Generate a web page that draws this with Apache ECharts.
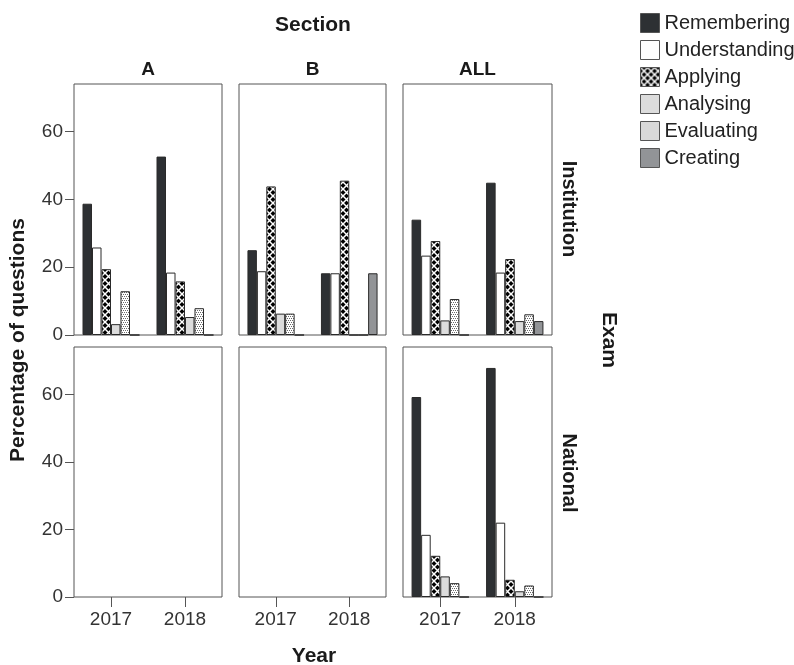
<!DOCTYPE html>
<html><head><meta charset="utf-8">
<script src="https://cdn.jsdelivr.net/npm/echarts@6/dist/echarts.min.js"></script>
<style>html,body{margin:0;padding:0;background:#fff}#c{width:794px;height:665px}</style>
</head><body><div id="c"></div>
<script>
// ---- data ----
const years = ['2017', '2018'];
const levels = ['Remembering', 'Understanding', 'Applying', 'Analysing', 'Evaluating', 'Creating'];
const yTicks = [0, 20, 40, 60];
const sections = ['A', 'B', 'ALL'];
const exams = ['Institution', 'National'];
// rows follow `levels`, each row = [2017, 2018] percentage of questions
const institutionA   = [[38.7, 52.6], [25.8, 18.4], [19.4, 15.8], [3.2, 5.3], [12.9, 7.9], [0, 0]];
const institutionB   = [[25.0, 18.2], [18.8, 18.2], [43.8, 45.5], [6.3, 0], [6.3, 0], [0, 18.2]];
const institutionAll = [[34.0, 44.9], [23.4, 18.4], [27.7, 22.4], [4.3, 4.1], [10.6, 6.1], [0, 4.1]];
const nationalAll    = [[59.2, 67.8], [18.4, 22.0], [12.2, 5.1], [6.1, 1.7], [4.1, 3.4], [0, 0]];

// ---- patterns ----
function applyingPattern() {
  const c = document.createElement('canvas'); c.width = 7; c.height = 7;
  const g = c.getContext('2d');
  g.fillStyle = '#000'; g.fillRect(0, 0, 7, 7);
  g.strokeStyle = '#fff'; g.lineWidth = 1.5;
  g.beginPath(); g.moveTo(0, 0); g.lineTo(7, 7); g.moveTo(7, 0); g.lineTo(0, 7); g.stroke();
  return { image: c, repeat: 'repeat' };
}
function evaluatingPattern() {
  const c = document.createElement('canvas'); c.width = 4; c.height = 4;
  const g = c.getContext('2d');
  g.fillStyle = '#fff'; g.fillRect(0, 0, 4, 4);
  g.fillStyle = '#6a6a6a';
  g.fillRect(0, 0, 1, 1); g.fillRect(2, 0, 1, 1); g.fillRect(1, 2, 1, 1); g.fillRect(3, 2, 1, 1);
  return { image: c, repeat: 'repeat' };
}
const fills = ['#2d3033', '#ffffff', applyingPattern(), '#dcdcdc', evaluatingPattern(), '#929497'];

// ---- layout ----
const cols = [{ left: 74, width: 148 }, { left: 239, width: 147 }, { left: 403, width: 149 }];
const rows = [{ top: 84, height: 251 }, { top: 347, height: 250 }];
const FONT = '"Liberation Sans", Arial, sans-serif';

const grids = [], xAxes = [], yAxes = [];
rows.forEach((r, ri) => {
  cols.forEach((c, ci) => {
    grids.push({ left: c.left, width: c.width, top: r.top, height: r.height, show: true,
      borderColor: '#555', borderWidth: 1, backgroundColor: 'transparent' });
    const gi = grids.length - 1;
    xAxes.push({ type: 'category', gridIndex: gi, data: years,
      axisLine: { show: false },
      axisTick: { show: ri === 1, alignWithLabel: true, length: 10, lineStyle: { color: '#555' } },
      axisLabel: { show: ri === 1, fontSize: 19, color: '#333', margin: 13, fontFamily: FONT } });
    yAxes.push({ type: 'value', gridIndex: gi, min: 0, max: 74,
      splitLine: { show: false }, axisLine: { show: false },
      axisTick: { show: ci === 0, length: 9, customValues: yTicks, lineStyle: { color: '#555' } },
      axisLabel: { show: ci === 0, customValues: yTicks, fontSize: 19, color: '#333', margin: 11, fontFamily: FONT } });
  });
});

const panels = [
  { data: institutionA, grid: 0 },
  { data: institutionB, grid: 1 },
  { data: institutionAll, grid: 2 },
  { data: nationalAll, grid: 5 }
];
const series = [];
panels.forEach(p => {
  levels.forEach((lv, i) => {
    series.push({ type: 'bar', name: lv, xAxisIndex: p.grid, yAxisIndex: p.grid,
      data: p.data[i], barGap: 0, barCategoryGap: '23%',
      itemStyle: { color: fills[i], borderColor: '#2a2a2a', borderWidth: 1 } });
  });
});

function txt(s, x, y, size, rot, bold) {
  return { type: 'text', x: x, y: y, rotation: rot || 0,
    style: { text: s, align: 'center', verticalAlign: 'middle', fill: '#1a1a1a',
      font: (bold === false ? '' : 'bold ') + size + 'px ' + FONT } };
}
const colCenters = cols.map(c => c.left + c.width / 2);
const rowCenters = [209, 473];
const graphic = [
  txt('Section', 313, 25, 21),
  txt(sections[0], colCenters[0], 70, 19),
  txt(sections[1], colCenters[1], 70, 19),
  txt(sections[2], colCenters[2], 70, 19),
  txt(exams[0], 569, rowCenters[0], 20, -Math.PI / 2),
  txt(exams[1], 569, rowCenters[1], 20, -Math.PI / 2),
  txt('Exam', 609, 340, 21, -Math.PI / 2),
  txt('Percentage of questions', 18, 340, 21, Math.PI / 2),
  txt('Year', 314, 656, 21)
];

const chart = echarts.init(document.getElementById('c'), null, { renderer: 'canvas' });
chart.setOption({
  animation: false,
  backgroundColor: '#fff',
  grid: grids, xAxis: xAxes, yAxis: yAxes, series: series, graphic: graphic,
  legend: { orient: 'vertical', left: 635, top: 8, itemWidth: 19, itemHeight: 19, itemGap: 7,
    icon: 'rect', selectedMode: false, data: levels,
    itemStyle: { borderColor: '#555', borderWidth: 1 },
    textStyle: { fontSize: 20, color: '#222', fontFamily: FONT } }
});
</script></body></html>
